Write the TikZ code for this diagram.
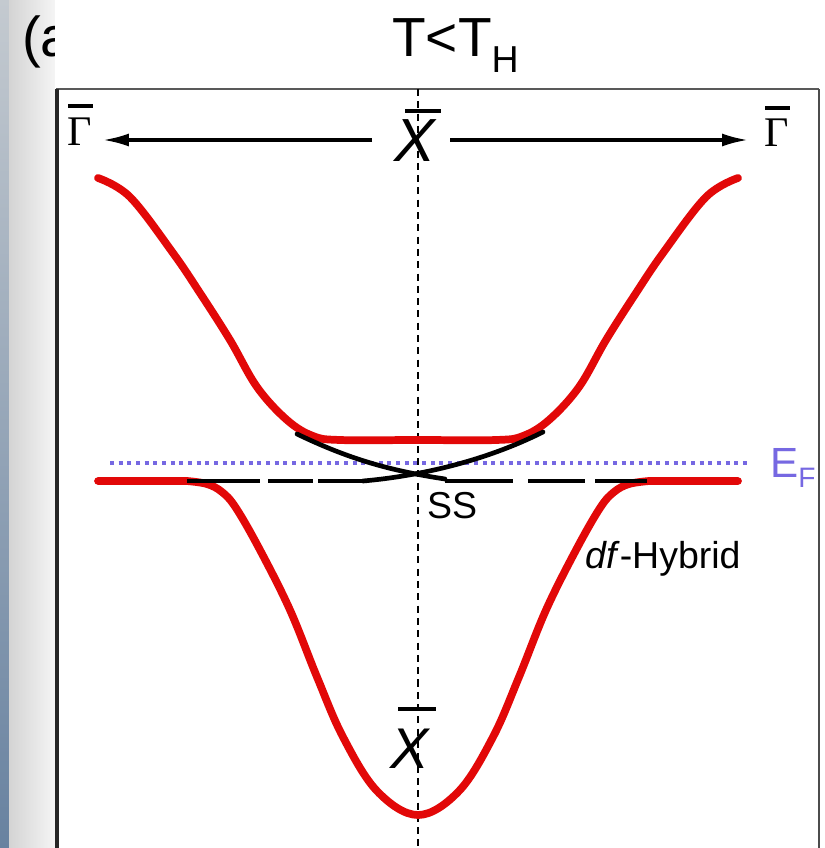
\documentclass[tikz,border=0pt]{standalone}
\usepackage{fontspec}
\setmainfont{Liberation Sans}
\newfontfamily\serifgr{Liberation Serif}
\usetikzlibrary{arrows.meta}
\definecolor{bandred}{RGB}{226,8,8}
\definecolor{efblue}{RGB}{118,104,226}
\definecolor{stripblue}{RGB}{104,130,160}
\definecolor{stripgray}{RGB}{196,202,208}
\begin{document}
\begin{tikzpicture}[x=0.03cm,y=-0.03cm,
  band/.style={draw=bandred,line width=6.6pt,line cap=round,line join=round},
  conebranch/.style={draw=black,line width=4pt,line cap=round},
  flatdash/.style={draw=black,line width=4.2pt},
  kaxis/.style={draw=black,line width=2.6pt,-{Latex[length=22pt,width=11pt]}},
  barline/.style={draw=black,line width=3pt},
  symlbl/.style={inner sep=0pt,anchor=base},
  txtlbl/.style={inner sep=0pt,anchor=base west},
  efline/.style={draw=efblue,line width=3pt,dash pattern=on 3.4pt off 4pt},
  xline/.style={draw=black,line width=1.7pt,dash pattern=on 6pt off 4.5pt}]
\useasboundingbox (0,0) rectangle (825,848);
\clip (0,0) rectangle (825,848);
% backgrounds
\shade[top color=stripgray,bottom color=stripblue] (0,0) rectangle (9,848);
\shade[left color=black!17,right color=black!4] (9,0) rectangle (55,848);
\node[txtlbl] (plabel) at (22,57) {\fontsize{48}{48}\selectfont (a};
\fill[white] (55,0) rectangle (825,848);
% title
\node[txtlbl] (title) at (392,57) {\fontsize{47}{47}\selectfont T<T\raisebox{-0.28em}{\fontsize{32}{32}\selectfont H}};
% frame
\draw[line width=1.8pt,black!65] (56,89) -- (819,89);
\draw[line width=1.8pt,black!70] (819,89) -- (819,860);
\draw[line width=3.4pt,black!85] (57,89) -- (57,860);
% vertical dashed line at X
\coordinate (xtopc) at (418,89);
\coordinate (xbotc) at (418,848);
\draw[xline] (xtopc) -- (xbotc);
% labels
\node[symlbl] (Gl) at (80,146) {\fontsize{36}{36}\selectfont\serifgr Γ};
\node[symlbl] (Gr) at (777,147) {\fontsize{36}{36}\selectfont\serifgr Γ};
\draw[barline] (68,106) -- (93,106);
\draw[barline] (765,108) -- (790,108);
\node[symlbl] (Xt) at (415,162) {\fontsize{52}{52}\selectfont\itshape X};
\draw[line width=3.6pt] (405,111) -- (441,111);
\node[symlbl] (Xb) at (410,768) {\fontsize{49}{49}\selectfont\itshape X};
\draw[line width=3.6pt] (398,709) -- (436,709);
% k-axis arrows
\coordinate (al0) at (372,140);
\coordinate (al1) at (103,140);
\coordinate (ar0) at (450,140);
\coordinate (ar1) at (748,140);
\draw[kaxis] (al0) -- (al1);
\draw[kaxis] (ar0) -- (ar1);
% bands
\draw[band] plot[smooth,tension=0.6] coordinates {(98,178) (130,197) (173,253) (200,293) (230,340) (257,387) (287,420) (313,436) (340,440) (418,440) (496,440) (523,436) (549,420) (579,387) (606,340) (636,293) (663,253) (706,197) (738,178)};
\draw[band] (98,481) -- plot[smooth,tension=0.6] coordinates {(187,481) (207,484) (222,492) (236,508) (260,550) (290,610) (317,677) (343,737) (377,791) (418,815) (459,791) (493,737) (519,677) (546,610) (576,550) (600,508) (614,492) (629,484) (649,481)} -- (738,481);
% Fermi level
\draw[efline] (110,463) -- (750,463);
\node[txtlbl,text=efblue] (EF) at (770,477) {\fontsize{36}{36}\selectfont E\raisebox{-0.25em}{\fontsize{24}{24}\selectfont F}};
% flat dashed f level
\draw[flatdash] (187,481) -- (260,481);
\draw[flatdash] (268,481) -- (313,481);
\draw[flatdash] (318,481) -- (363,481);
\draw[flatdash] (445,481) -- (513,481);
\draw[flatdash] (528,481) -- (585,481);
\draw[flatdash] (595,481) -- (647,481);
% surface state cone
\draw[conebranch] (297,434) .. controls (345,457) and (385,470) .. (445,479);
\draw[conebranch] (363,481) .. controls (420,476) and (485,461) .. (543,432);
% texts
\node[txtlbl] (SS) at (427,518) {\fontsize{32}{32}\selectfont SS};
\node[txtlbl] (hyb) at (585,568) {\fontsize{32}{32}\selectfont\textit{df}-Hybrid};
\end{tikzpicture}
\end{document}
